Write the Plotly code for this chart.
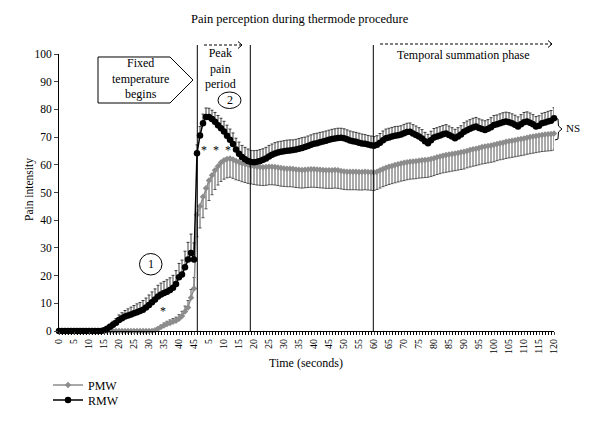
import plotly.graph_objects as go

# ---------------- data ----------------
# Ramp phase: seconds 0..45 ; Fixed-temperature phase: seconds 1..120
ramp_seconds = list(range(0, 46))
fixed_seconds = list(range(1, 121))

rmw_ramp = [0, 0, 0, 0, 0, 0, 0, 0, 0, 0,
            0, 0, 0, 0, 0, 0.3, 0.8, 1.5, 2.3, 3.0,
            4.0, 4.6, 5.2, 5.6, 6.0, 6.4, 6.8, 7.2, 7.7, 8.5,
            9.4, 10.4, 11.4, 12.5, 13.2, 13.7, 14.2, 14.8, 15.6, 17.0,
            19.4, 20.4, 23.0, 25.8, 28.2, 25.8]
rmw_ramp_err = [0, 0, 0, 0, 0, 0, 0, 0, 0, 0,
                0, 0, 0, 0, 0, 0.3, 0.6, 0.9, 1.2, 1.5,
                1.8, 2.0, 2.2, 2.4, 2.6, 2.8, 3.0, 3.1, 3.3, 3.4,
                3.6, 3.7, 3.8, 4.0, 4.1, 4.2, 4.3, 4.4, 4.5, 4.8,
                5.0, 5.2, 5.8, 6.2, 6.8, 6.0]

pmw_ramp = [0, 0, 0, 0, 0, 0, 0, 0, 0, 0,
            0, 0, 0, 0, 0, 0, 0, 0, 0, 0,
            0, 0, 0, 0, 0, 0, 0, 0, 0, 0,
            0, 0, 0.3, 0.8, 1.4, 2.0, 2.5, 2.9, 3.3, 3.7,
            4.4, 5.4, 7.0, 8.5, 12.0, 15.3]
pmw_ramp_err = [0, 0, 0, 0, 0, 0, 0, 0, 0, 0,
                0, 0, 0, 0, 0, 0, 0, 0, 0, 0,
                0, 0, 0, 0, 0, 0, 0, 0, 0, 0,
                0, 0, 0.3, 0.5, 0.7, 0.9, 1.0, 1.1, 1.2, 1.3,
                1.5, 1.7, 2.0, 2.5, 3.0, 4.0]

rmw_fixed = [64.2, 70.6, 75.0, 77.3, 77.3, 76.5, 75.5, 74.3, 73.2, 72.0,
             70.5, 69.0, 67.5, 65.5, 64.0, 62.8, 62.0, 61.4, 61.0, 60.9,
             61.1, 61.4, 61.8, 62.3, 63.0, 63.6, 64.1, 64.4, 64.7, 64.9,
             65.1, 65.2, 65.3, 65.5, 65.8, 66.1, 66.4, 66.8, 67.2, 67.6,
             67.8, 68.1, 68.4, 68.7, 69.0, 69.3, 69.5, 69.7, 69.8, 69.6,
             69.2, 68.8, 68.5, 68.3, 68.0, 67.7, 67.6, 67.3, 67.1, 66.9,
             67.2, 68.0, 68.9, 69.6, 69.9, 70.2, 70.5, 70.7, 70.9, 71.4,
             71.8, 71.9, 71.3, 70.8, 70.2, 69.5, 68.5, 67.8, 68.9, 69.9,
             70.2, 70.6, 71.0, 71.3, 70.8, 70.2, 69.6, 70.2, 70.9, 71.9,
             72.5, 73.0, 73.5, 73.8, 73.3, 72.9, 72.6, 73.0, 73.6, 74.4,
             74.6, 75.0, 75.4, 75.6, 75.4, 75.0, 74.5, 73.8, 74.6, 75.4,
             75.6, 75.2, 74.6, 73.8, 74.1, 75.0, 75.3, 75.6, 75.9, 76.8]
rmw_fixed_err = [3.0, 3.2, 3.3, 3.2, 3.1, 3.2, 3.4, 3.5, 3.6, 3.7,
                 3.8, 3.9, 4.0, 4.1, 4.2, 4.2, 4.3, 4.3, 4.2, 4.2,
                 4.1, 4.1, 4.0, 4.0, 4.0, 3.9, 3.9, 3.9, 3.8, 3.8,
                 3.8, 3.8, 3.7, 3.7, 3.7, 3.7, 3.6, 3.6, 3.6, 3.6,
                 3.6, 3.6, 3.5, 3.5, 3.5, 3.5, 3.5, 3.5, 3.4, 3.4,
                 3.4, 3.4, 3.4, 3.4, 3.4, 3.4, 3.3, 3.3, 3.3, 3.3,
                 3.3, 3.3, 3.3, 3.3, 3.3, 3.3, 3.3, 3.2, 3.2, 3.2,
                 3.2, 3.2, 3.2, 3.2, 3.2, 3.2, 3.2, 3.2, 3.2, 3.2,
                 3.2, 3.2, 3.2, 3.2, 3.2, 3.2, 3.2, 3.2, 3.2, 3.3,
                 3.3, 3.3, 3.3, 3.3, 3.3, 3.3, 3.3, 3.3, 3.4, 3.4,
                 3.4, 3.4, 3.4, 3.4, 3.4, 3.4, 3.4, 3.5, 3.5, 3.5,
                 3.5, 3.5, 3.5, 3.6, 3.6, 3.6, 3.6, 3.7, 3.7, 3.8]

pmw_fixed = [42.0, 45.0, 48.5, 51.5, 54.3, 56.2, 58.0, 59.5, 60.8, 61.6,
             62.1, 62.3, 61.9, 61.4, 61.0, 60.6, 60.3, 60.0, 59.7, 59.5,
             59.3, 59.2, 59.1, 59.2, 59.3, 59.3, 59.2, 59.0, 58.8, 58.7,
             58.6, 58.6, 58.5, 58.3, 58.2, 58.1, 58.2, 58.3, 58.4, 58.4,
             58.3, 58.2, 58.1, 58.0, 58.0, 58.0, 58.1, 58.0, 57.8, 57.6,
             57.5, 57.5, 57.5, 57.5, 57.4, 57.4, 57.5, 57.4, 57.3, 57.2,
             57.5, 58.0, 58.5, 58.9, 59.3, 59.6, 59.9, 60.2, 60.5, 60.7,
             60.9, 61.1, 61.2, 61.3, 61.5, 61.6, 61.7, 61.8, 62.1, 62.4,
             62.7, 63.0, 63.3, 63.5, 63.7, 63.9, 64.1, 64.3, 64.5, 64.7,
             65.0, 65.3, 65.6, 65.8, 66.1, 66.4, 66.6, 66.8, 67.0, 67.2,
             67.5, 67.8, 68.0, 68.3, 68.5, 68.7, 68.9, 69.1, 69.3, 69.5,
             69.8, 70.0, 70.2, 70.4, 70.6, 70.8, 70.9, 71.0, 71.1, 71.3]
pmw_fixed_err = [8.0, 7.8, 7.6, 7.4, 7.2, 7.0, 6.9, 6.8, 6.8, 6.8,
                 6.8, 6.8, 6.8, 6.8, 6.7, 6.7, 6.7, 6.7, 6.6, 6.6,
                 6.6, 6.6, 6.6, 6.6, 6.5, 6.5, 6.5, 6.5, 6.5, 6.5,
                 6.5, 6.5, 6.5, 6.5, 6.5, 6.5, 6.5, 6.5, 6.5, 6.5,
                 6.5, 6.5, 6.5, 6.5, 6.5, 6.5, 6.5, 6.5, 6.5, 6.5,
                 6.5, 6.5, 6.5, 6.5, 6.5, 6.5, 6.5, 6.5, 6.5, 6.5,
                 6.4, 6.4, 6.4, 6.4, 6.4, 6.4, 6.4, 6.4, 6.4, 6.4,
                 6.3, 6.3, 6.3, 6.3, 6.3, 6.3, 6.3, 6.3, 6.3, 6.3,
                 6.2, 6.2, 6.2, 6.2, 6.2, 6.2, 6.2, 6.2, 6.2, 6.2,
                 6.1, 6.1, 6.1, 6.1, 6.1, 6.1, 6.1, 6.1, 6.1, 6.1,
                 6.0, 6.0, 6.0, 6.0, 6.0, 6.0, 6.0, 6.0, 6.0, 6.0,
                 6.0, 6.0, 6.0, 6.0, 6.0, 6.0, 6.0, 6.0, 6.0, 6.0]

tick_labels = ["0", "5", "10", "15", "20", "25", "30", "35", "40", "45",
               "5", "10", "15", "20", "25", "30", "35", "40", "45", "50",
               "55", "60", "65", "70", "75", "80", "85", "90", "95", "100",
               "105", "110", "115", "120"]

# ---------------- build category positions ----------------
n_ramp = len(ramp_seconds)
x_all = list(range(n_ramp + len(fixed_seconds)))
cat_labels = [str(s) for s in ramp_seconds] + [str(s) for s in fixed_seconds]
tick_vals = []
ti = 0
for i, lab in enumerate(cat_labels):
    if ti < len(tick_labels) and lab == tick_labels[ti] and int(lab) % 5 == 0:
        tick_vals.append(i)
        ti += 1

rmw = rmw_ramp + rmw_fixed
rmw_up = rmw_ramp_err + rmw_fixed_err
pmw = pmw_ramp + pmw_fixed
pmw_up = pmw_ramp_err + [0] * len(pmw_fixed)
pmw_dn = [0] * n_ramp + pmw_fixed_err

FONT = "Liberation Serif"

# The page body adds an 8px offset; targets below are screen pixels.
OFF = 8
L, R, T, B = 59, 554, 54, 331          # target plot area on screen
Lf, Rf, Tf, Bf = L - OFF, R - OFF, T - OFF, B - OFF   # in figure coords
def px(x):
    return (x - L) / (R - L)
def py(y):
    return (B - y) / (B - T)
def path(pts, close=False):
    s = "M " + " L ".join(f"{px(a):.5f},{py(b):.5f}" for a, b in pts)
    return s + (" Z" if close else "")

fig = go.Figure()
fig.add_trace(go.Scatter(
    x=x_all, y=pmw, name="PMW", mode="lines+markers", legend="legend",
    line=dict(color="#8c8c8c", width=1.5),
    marker=dict(symbol="diamond", size=5, color="#8c8c8c"),
    error_y=dict(type="data", symmetric=False, array=pmw_up, arrayminus=pmw_dn,
                 color="#444444", thickness=0.9, width=1.5),
    cliponaxis=False))
fig.add_trace(go.Scatter(
    x=x_all, y=rmw, name="RMW", mode="lines+markers", legend="legend2",
    line=dict(color="#000000", width=1.5),
    marker=dict(symbol="circle", size=6.5, color="#000000"),
    error_y=dict(type="data", symmetric=False, array=rmw_up,
                 arrayminus=[0] * len(rmw_up),
                 color="#2a2a2a", thickness=0.9, width=1.5),
    cliponaxis=False))

shapes = []
# vertical phase lines
for xv in (197.3, 250.3, 373.3):
    shapes.append(dict(type="line", xref="paper", yref="paper",
                       x0=px(xv), x1=px(xv), y0=py(45), y1=py(331),
                       line=dict(color="#000", width=1)))
# dashed arrows
for (x0, x1, yy) in ((204, 242, 45), (380, 552, 44)):
    shapes.append(dict(type="line", xref="paper", yref="paper",
                       x0=px(x0), x1=px(x1), y0=py(yy), y1=py(yy),
                       line=dict(color="#000", width=1, dash="3px,2px")))
    shapes.append(dict(type="path", xref="paper", yref="paper",
                       path=path([(x1 - 4, yy - 3.5), (x1, yy), (x1 - 4, yy + 3.5)]),
                       line=dict(color="#000", width=1)))
# pentagon arrow box
shapes.append(dict(type="path", xref="paper", yref="paper",
                   path=path([(98, 57), (170, 57), (193, 80), (170, 103), (98, 103)], close=True),
                   line=dict(color="#000", width=1), fillcolor="white"))
# circles
shapes.append(dict(type="circle", xref="paper", yref="paper",
                   x0=px(218), x1=px(241), y0=py(92), y1=py(108.5),
                   line=dict(color="#000", width=1)))
shapes.append(dict(type="circle", xref="paper", yref="paper",
                   x0=px(139.5), x1=px(162), y0=py(253.5), y1=py(275),
                   line=dict(color="#000", width=1)))
# NS brace
shapes.append(dict(type="path", xref="paper", yref="paper",
                   path=path([(555, 118), (558, 119), (558.5, 126), (562, 129),
                              (558.5, 132), (558, 139), (555, 140)]),
                   line=dict(color="#000", width=1)))

def ann(text, x, y, size=12, **kw):
    return dict(text=text, x=px(x), y=py(y), xref="paper", yref="paper",
                xanchor="center", yanchor="middle",
                showarrow=False, font=dict(family=FONT, size=size, color="#000"), **kw)

annotations = [
    ann("Pain perception during thermode procedure", 300, 19, size=12.5),
    ann("Fixed<br>temperature<br>begins", 140, 79),
    ann("Peak<br>pain<br>period", 220, 68),
    ann("2", 229.5, 100),
    ann("1", 150.7, 264),
    ann("Temporal summation phase", 462.5, 55),
    ann("NS", 573, 128, size=11),
    ann("*  *  *", 215.5, 150, size=12),
    ann("*", 162.5, 311, size=12),
    ann("Time (seconds)", 306, 363),
    ann("Pain intensity", 29, 190, size=11.5, textangle=-90),
]

leg_common = dict(xanchor="left", yanchor="middle", bgcolor="rgba(0,0,0,0)",
                  font=dict(family=FONT, size=12), itemwidth=30)
fig.update_layout(
    width=600, height=429,
    margin=dict(l=Lf, r=600 - Rf, t=Tf, b=429 - Bf, autoexpand=False),
    paper_bgcolor="white", plot_bgcolor="white",
    font=dict(family=FONT, size=11, color="#000"),
    showlegend=True,
    legend=dict(x=px(48), y=py(385), **leg_common),
    legend2=dict(x=px(48), y=py(400), **leg_common),
    shapes=shapes, annotations=annotations,
    xaxis=dict(range=[0, len(x_all) - 1], tickmode="array", tickvals=tick_vals,
               ticktext=tick_labels, tickangle=-90, ticks="outside", ticklen=3,
               tickfont=dict(family=FONT, size=10), showgrid=False, zeroline=False,
               automargin=False,
               showline=True, linecolor="#000", linewidth=1,
               minor=dict(ticks="outside", ticklen=3, dtick=1, tick0=0, tickcolor="#000", showgrid=False)),
    yaxis=dict(range=[0, 100], tickmode="linear", tick0=0, dtick=10, ticks="outside",
               ticklen=4, tickfont=dict(family=FONT, size=11.5), showgrid=False,
               automargin=False,
               zeroline=False, showline=True, linecolor="#000", linewidth=1),
)

fig.write_html("out.html")
